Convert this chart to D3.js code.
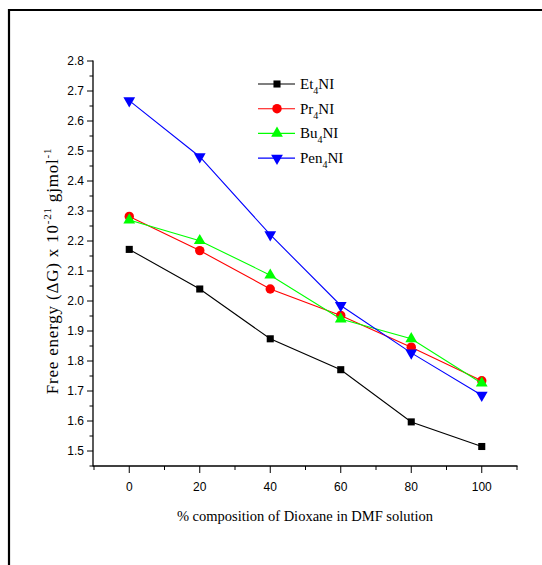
<!DOCTYPE html>
<html>
<head>
<meta charset="utf-8">
<script src="https://cdn.jsdelivr.net/npm/d3@7"></script>
<style>
  body { margin: 0; background: #fff; }
  svg { display: block; }
</style>
</head>
<body>
<div id="chart"></div>
<script>
// data
var composition = [0, 20, 40, 60, 80, 100];
var et4NI = [2.172, 2.040, 1.874, 1.771, 1.597, 1.515];
var pr4NI = [2.282, 2.168, 2.040, 1.952, 1.846, 1.734];
var bu4NI = [2.270, 2.201, 2.086, 1.940, 1.874, 1.726];
var pen4NI = [2.668, 2.481, 2.221, 1.985, 1.827, 1.686];
var seriesNames = ["Et", "Pr", "Bu", "Pen"];
var xTicks = [0, 20, 40, 60, 80, 100];
var yTicks = [1.5, 1.6, 1.7, 1.8, 1.9, 2.0, 2.1, 2.2, 2.3, 2.4, 2.5, 2.6, 2.7, 2.8];

var series = [
  { name: seriesNames[0], values: et4NI, color: "#000000", symbol: d3.symbolSquare, size: 50, rot: 0 },
  { name: seriesNames[1], values: pr4NI, color: "#ff0000", symbol: d3.symbolCircle, size: 70, rot: 0 },
  { name: seriesNames[2], values: bu4NI, color: "#00ff00", symbol: d3.symbolTriangle, size: 60, rot: 0 },
  { name: seriesNames[3], values: pen4NI, color: "#0000ff", symbol: d3.symbolTriangle, size: 60, rot: 180 }
];

var W = 542, H = 565;
var svg = d3.select("#chart").append("svg").attr("width", W).attr("height", H);

// outer frame (only top and left edges visible)
svg.append("path")
  .attr("d", "M9,565 L9,10 L542,10")
  .attr("fill", "none")
  .attr("stroke", "#000")
  .attr("stroke-width", 2.2);

var x = d3.scaleLinear().domain([-10, 110]).range([94, 517]);
var y = d3.scaleLinear().domain([1.45, 2.8]).range([466, 61]);

// x axis
var gx = svg.append("g").attr("transform", "translate(0,466)");
gx.append("line").attr("x1", 93).attr("x2", 517.5).attr("stroke", "#000").attr("stroke-width", 1.3);
gx.selectAll(".minor").data(d3.range(-10, 111, 20)).enter().append("line")
  .attr("x1", (d) => x(d)).attr("x2", (d) => x(d))
  .attr("y1", 0).attr("y2", 4)
  .attr("stroke", "#000").attr("stroke-width", 1);
gx.selectAll(".major").data(xTicks).enter().append("line")
  .attr("x1", (d) => x(d)).attr("x2", (d) => x(d))
  .attr("y1", 0).attr("y2", 7)
  .attr("stroke", "#000").attr("stroke-width", 1);
gx.selectAll("text").data(xTicks).enter().append("text")
  .attr("x", (d) => x(d)).attr("y", 25)
  .attr("text-anchor", "middle")
  .style("font-family", "Liberation Sans, Arial, sans-serif")
  .style("font-size", "12px")
  .text((d) => d);

// y axis
var gy = svg.append("g").attr("transform", "translate(93,0)");
gy.append("line").attr("y1", 60.5).attr("y2", 466.5).attr("stroke", "#000").attr("stroke-width", 1.3);
gy.selectAll(".minor").data(d3.range(1.45, 2.8, 0.1)).enter().append("line")
  .attr("y1", (d) => y(d)).attr("y2", (d) => y(d))
  .attr("x1", 0).attr("x2", -3.5)
  .attr("stroke", "#000").attr("stroke-width", 1);
gy.selectAll(".major").data(yTicks).enter().append("line")
  .attr("y1", (d) => y(d)).attr("y2", (d) => y(d))
  .attr("x1", 0).attr("x2", -6)
  .attr("stroke", "#000").attr("stroke-width", 1);
gy.selectAll("text").data(yTicks).enter().append("text")
  .attr("x", -9).attr("y", (d) => y(d) + 4)
  .attr("text-anchor", "end")
  .style("font-family", "Liberation Sans, Arial, sans-serif")
  .style("font-size", "12px")
  .text((d) => d3.format(".1f")(d));

// axis titles
var ylab = svg.append("text")
  .attr("transform", "translate(58,271) rotate(-90)")
  .attr("text-anchor", "middle")
  .style("font-family", "Liberation Serif, Times New Roman, serif")
  .style("font-size", "17px")
  .style("letter-spacing", "0.8px");
ylab.append("tspan").text("Free energy (\u0394G) x 10");
ylab.append("tspan").attr("dy", -7).style("font-size", "11px").text("-21");
ylab.append("tspan").attr("dy", 7).text(" gjmol");
ylab.append("tspan").attr("dy", -7).style("font-size", "11px").text("-1");

svg.append("text")
  .attr("x", 305).attr("y", 521)
  .attr("text-anchor", "middle")
  .style("font-family", "Liberation Serif, Times New Roman, serif")
  .style("font-size", "14.5px")
  .text("% composition of Dioxane in DMF solution");

// lines and markers
var line = d3.line().x((d, i) => x(composition[i])).y((d) => y(d));
series.forEach(function (s) {
  svg.append("path")
    .datum(s.values)
    .attr("d", line)
    .attr("fill", "none")
    .attr("stroke", s.color)
    .attr("stroke-width", 1.1);
  svg.selectAll(null).data(s.values).enter().append("path")
    .attr("d", d3.symbol().type(s.symbol).size(s.size))
    .attr("transform", (d, i) => "translate(" + x(composition[i]) + "," + y(d) + ") rotate(" + s.rot + ")")
    .attr("fill", s.color);
});

// legend
var legend = svg.append("g");
series.forEach(function (s, i) {
  var ly = 84 + i * 24.7;
  legend.append("line")
    .attr("x1", 258).attr("x2", 295).attr("y1", ly).attr("y2", ly)
    .attr("stroke", s.color).attr("stroke-width", 1.1);
  legend.append("path")
    .attr("d", d3.symbol().type(s.symbol).size(s.size))
    .attr("transform", "translate(277," + ly + ") rotate(" + s.rot + ")")
    .attr("fill", s.color);
  var t = legend.append("text")
    .attr("x", 300).attr("y", ly + 5)
    .style("font-family", "Liberation Serif, Times New Roman, serif")
    .style("font-size", "15px");
  t.append("tspan").text(s.name);
  t.append("tspan").attr("dy", 5).style("font-size", "10px").text("4");
  t.append("tspan").attr("dy", -5).text("NI");
});
</script>
</body>
</html>
